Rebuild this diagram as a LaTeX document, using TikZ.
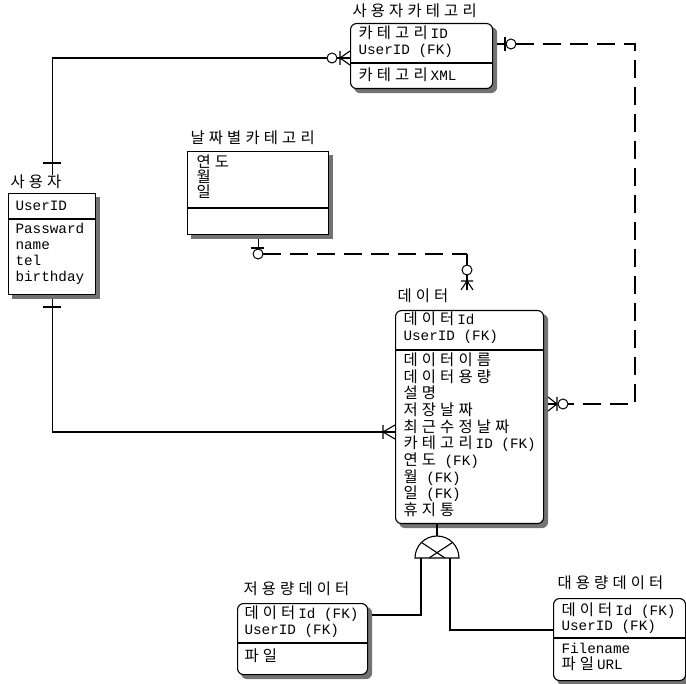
\documentclass[tikz,border=0pt]{standalone}
\usepackage{fontspec}
\setmainfont{Liberation Mono}
\newfontfamily\kr{Noto Sans CJK KR}[LetterSpace=27]
\usetikzlibrary{backgrounds}
\newcommand\K[1]{{\kr\fontsize{15.4}{16}\selectfont #1}}
\newcommand\KL[1]{\K{#1}\kern3pt}
\begin{document}
\begin{tikzpicture}[x=1pt,y=-1pt,line width=1.1pt,
  ent/.style={draw,fill=white,anchor=north west,inner sep=0pt},
  dep/.style={ent,rounded corners=6pt},
  shd/.style={fill=black!55,draw=none},
  lbl/.style={anchor=west,inner sep=0pt,text height=10pt,text depth=3pt,
    font=\fontsize{14.3}{16}\selectfont},
  dsh/.style={dash pattern=on 18pt off 9pt},
  opt/.style={draw,fill=white,line width=1pt}]
\useasboundingbox (0,0) rectangle (686,684);

% ---------- entities ----------
\node[ent,minimum width=87pt,minimum height=101pt] (us) at (8,193) {};
\node[dep,minimum width=142pt,minimum height=65pt] (uc) at (350,23) {};
\node[ent,minimum width=141pt,minimum height=83pt] (dc) at (187,151) {};
\node[dep,minimum width=148pt,minimum height=213pt] (da) at (395,310) {};
\node[dep,minimum width=130pt,minimum height=71pt] (lo) at (237,603) {};
\node[dep,minimum width=132pt,minimum height=82pt] (hi) at (553,598) {};

\begin{scope}[on background layer]
  \fill[shd] ([shift={(4,4)}]us.north west) rectangle ([shift={(4,4)}]us.south east);
  \fill[shd] ([shift={(4,4)}]dc.north west) rectangle ([shift={(4,4)}]dc.south east);
  \fill[shd,rounded corners=6pt] ([shift={(4,4)}]uc.north west) rectangle ([shift={(4,4)}]uc.south east);
  \fill[shd,rounded corners=6pt] ([shift={(4,4)}]da.north west) rectangle ([shift={(4,4)}]da.south east);
  \fill[shd,rounded corners=6pt] ([shift={(4,4)}]lo.north west) rectangle ([shift={(4,4)}]lo.south east);
  \fill[shd,rounded corners=6pt] ([shift={(4,4)}]hi.north west) rectangle ([shift={(4,4)}]hi.south east);
\end{scope}

% dividers
\draw (us.west |- 0,219) -- (us.east |- 0,219);
\draw (uc.west |- 0,63) -- (uc.east |- 0,63);
\draw (dc.west |- 0,208) -- (dc.east |- 0,208);
\draw (da.west |- 0,350) -- (da.east |- 0,350);
\draw (lo.west |- 0,643) -- (lo.east |- 0,643);
\draw (hi.west |- 0,638) -- (hi.east |- 0,638);

% ---------- texts ----------
% 사용자
\node[lbl] (usT) at (10,184) {\K{사용자}};
\node[lbl] (us1) at (15,207) {UserID};
\node[lbl] (us2) at (15,230) {Passward};
\node[lbl] (us3) at (15,246) {name};
\node[lbl] (us4) at (15,262) {tel};
\node[lbl] (us5) at (15,278) {birthday};
% 사용자카테고리
\node[lbl] (ucT) at (352,13) {\K{사용자카테고리}};
\node[lbl] (uc1) at (358,35) {\KL{카테고리}ID};
\node[lbl] (uc2) at (358,51) {UserID (FK)};
\node[lbl] (uc3) at (358,77) {\KL{카테고리}XML};
% 날짜별카테고리
\node[lbl] (dcT) at (190,140) {\K{날짜별카테고리}};
\node[lbl] (dc1) at (196,164) {\K{연도}};
\node[lbl] (dc2) at (196,179) {\K{월}};
\node[lbl] (dc3) at (196,194) {\K{일}};
% 데이터
\node[lbl] (daT) at (397,298) {\K{데이터}};
\node[lbl] (da1) at (403,321) {\KL{데이터}Id};
\node[lbl] (da2) at (403,337) {UserID (FK)};
\node[lbl] (da3) at (403,362) {\K{데이터이름}};
\node[lbl] (da4) at (403,379) {\K{데이터용량}};
\node[lbl] (da5) at (403,395) {\K{설명}};
\node[lbl] (da6) at (403,412) {\K{저장날짜}};
\node[lbl] (da7) at (403,429) {\K{최근수정날짜}};
\node[lbl] (da8) at (403,445) {\KL{카테고리}ID (FK)};
\node[lbl] (da9) at (403,462) {\K{연도} (FK)};
\node[lbl] (da10) at (403,479) {\K{월} (FK)};
\node[lbl] (da11) at (403,495) {\K{일} (FK)};
\node[lbl] (da12) at (403,512) {\K{휴지통}};
% 저용량데이터
\node[lbl] (loT) at (243,591) {\K{저용량데이터}};
\node[lbl] (lo1) at (244,615) {\KL{데이터}Id (FK)};
\node[lbl] (lo2) at (244,631) {UserID (FK)};
\node[lbl] (lo3) at (244,658) {\K{파일}};
% 대용량데이터
\node[lbl] (hiT) at (557,585) {\K{대용량데이터}};
\node[lbl] (hi1) at (561,612) {\KL{데이터}Id (FK)};
\node[lbl] (hi2) at (561,627) {UserID (FK)};
\node[lbl] (hi3) at (561,650) {Filename};
\node[lbl] (hi4) at (561,666) {\KL{파일}URL};

% ---------- relationships ----------
% 사용자 -> 사용자카테고리
\coordinate (usTop) at (us.north |- 0,175);
\draw (usTop) |- (uc.west |- 0,58);
\draw (43,163) -- (61,163);
\draw (340,58) -- (350,51) (340,58) -- (350,65) (340,51) -- (340,65);
\draw[opt] (332,58) circle[radius=5];

% 사용자 -> 데이터
\draw ([yshift=-4pt]us.south) |- (da.west |- 0,432);
\draw (43,307) -- (61,307);
\draw (383,432) -- (395,425) (383,432) -- (395,439) (383,425) -- (383,439);

% 사용자카테고리 -> 데이터 (non-identifying)
\draw ([xshift=4pt]uc.east |- 0,44) -- (506,44);
\draw (505,37) -- (505,51);
\draw[dsh] (516,44) -| (635,404) -- (568,404);
\draw[opt] (511,44) circle[radius=5];
\draw (557,404) -- ([xshift=4pt]da.east |- 0,404);
\draw (557,404) -- (548,397) (557,404) -- (548,411) (557,397) -- (557,411);
\draw[opt] (563,404) circle[radius=5];

% 날짜별카테고리 -> 데이터 (non-identifying)
\draw ([yshift=-4pt]dc.south) -- (dc.south |- 0,249);
\draw (251,248) -- (264,248);
\draw[dsh] (263,254) -- (467,254);
\coordinate (dcEnd) at (467,290);
\draw (467,254) -- (dcEnd);
\draw (461,281) -- (473,281) (467,281) -- (461,290) (467,281) -- (473,290);
\draw[opt] (dc.south |- 0,254) circle[radius=5];
\draw[opt] (467,270) circle[radius=5];

% ---------- subtype ----------
\draw (da.south -| 437,0) -- (437,536);
\draw (415,558) arc[start angle=180,end angle=360,radius=22] -- cycle;
\draw (421.4,542.4) -- (445,558) (452.6,542.4) -- (429,558);
\draw (421,558) |- ([xshift=4pt]lo.east |- 0,615);
\draw (450,558) |- (hi.west |- 0,630);
\end{tikzpicture}
\end{document}
